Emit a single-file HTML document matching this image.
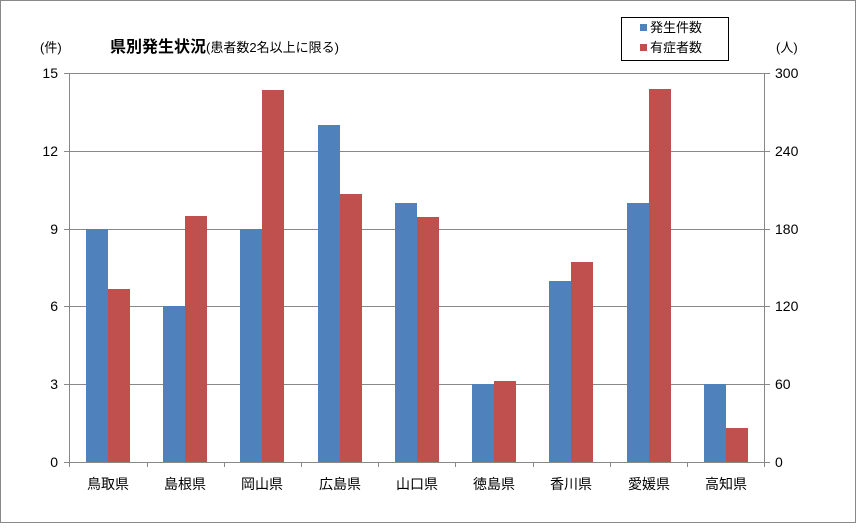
<!DOCTYPE html>
<html><head><meta charset="utf-8"><style>
body{margin:0;background:#fff}
svg text{font-family:"Liberation Sans","Noto Sans CJK JP",sans-serif;fill:#000}
</style></head><body>
<svg width="857" height="524" xmlns="http://www.w3.org/2000/svg">
<rect x="0.5" y="0.5" width="855" height="522" fill="#fff" stroke="#888" stroke-width="1"/>
<g stroke="#888" stroke-width="1">
<line x1="64" y1="73.5" x2="770" y2="73.5"/>
<line x1="64" y1="151.5" x2="770" y2="151.5"/>
<line x1="64" y1="229.5" x2="770" y2="229.5"/>
<line x1="64" y1="306.5" x2="770" y2="306.5"/>
<line x1="64" y1="384.5" x2="770" y2="384.5"/>
<line x1="64" y1="462.5" x2="770" y2="462.5"/>
<line x1="69.5" y1="73" x2="69.5" y2="462"/>
<line x1="764.5" y1="73" x2="764.5" y2="462"/>
<line x1="147.5" y1="462" x2="147.5" y2="467"/><line x1="224.5" y1="462" x2="224.5" y2="467"/>
<line x1="301.5" y1="462" x2="301.5" y2="467"/><line x1="378.5" y1="462" x2="378.5" y2="467"/>
<line x1="455.5" y1="462" x2="455.5" y2="467"/><line x1="533.5" y1="462" x2="533.5" y2="467"/>
<line x1="610.5" y1="462" x2="610.5" y2="467"/><line x1="687.5" y1="462" x2="687.5" y2="467"/>
<line x1="69.5" y1="462" x2="69.5" y2="467"/><line x1="764.5" y1="462" x2="764.5" y2="467"/>
</g>
<g fill="#4f81bd">
<rect x="86" y="229" width="22" height="233"/>
<rect x="163" y="306" width="22" height="156"/>
<rect x="240" y="229" width="22" height="233"/>
<rect x="318" y="125" width="22" height="337"/>
<rect x="395" y="203" width="22" height="259"/>
<rect x="472" y="384" width="22" height="78"/>
<rect x="549" y="281" width="22" height="181"/>
<rect x="627" y="203" width="22" height="259"/>
<rect x="704" y="384" width="22" height="78"/>
</g>
<g fill="#c0504d">
<rect x="108" y="289" width="22" height="173"/>
<rect x="185" y="216" width="22" height="246"/>
<rect x="262" y="90" width="22" height="372"/>
<rect x="340" y="194" width="22" height="268"/>
<rect x="417" y="217" width="22" height="245"/>
<rect x="494" y="381" width="22" height="81"/>
<rect x="571" y="262" width="22" height="200"/>
<rect x="649" y="89" width="22" height="373"/>
<rect x="726" y="428" width="22" height="34"/>
</g>
<g font-size="14" text-anchor="end">
<text x="58" y="78">15</text><text x="58" y="156">12</text><text x="58" y="234">9</text>
<text x="58" y="311">6</text><text x="58" y="389">3</text><text x="58" y="467">0</text>
</g>
<g font-size="14" text-anchor="start">
<text x="775" y="78">300</text><text x="775" y="156">240</text><text x="775" y="234">180</text>
<text x="775" y="311">120</text><text x="775" y="389">60</text><text x="775" y="467">0</text>
</g>
<g font-size="14" text-anchor="middle">
<text x="108" y="489">鳥取県</text><text x="185" y="489">島根県</text><text x="262" y="489">岡山県</text>
<text x="340" y="489">広島県</text><text x="417" y="489">山口県</text><text x="494" y="489">徳島県</text>
<text x="571" y="489">香川県</text><text x="649" y="489">愛媛県</text><text x="726" y="489">高知県</text>
</g>
<text x="40" y="52" font-size="13">(件)</text>
<text x="776" y="52" font-size="13">(人)</text>
<text x="110" y="52" font-size="16" font-weight="bold">県別発生状況<tspan font-size="13" font-weight="normal">(患者数2名以上に限る)</tspan></text>
<rect x="621.5" y="17.5" width="107" height="43" fill="#fff" stroke="#000" stroke-width="1"/>
<rect x="640" y="24" width="7" height="7" fill="#4f81bd"/>
<text x="650" y="32" font-size="13">発生件数</text>
<rect x="640" y="44" width="7" height="7" fill="#c0504d"/>
<text x="650" y="52" font-size="13">有症者数</text>
</svg>
</body></html>
